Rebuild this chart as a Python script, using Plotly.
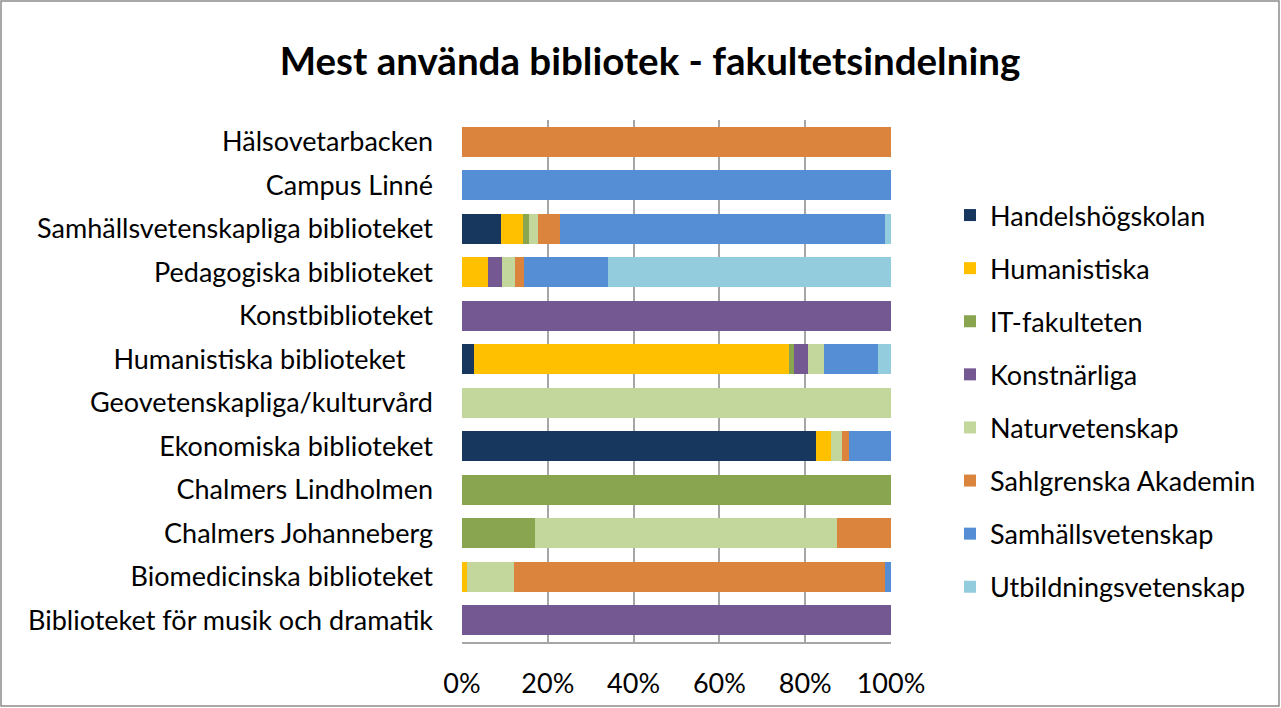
import plotly.graph_objects as go

categories = ["Hälsovetarbacken", "Campus Linné", "Samhällsvetenskapliga biblioteket",
              "Pedagogiska biblioteket", "Konstbiblioteket",
              "Humanistiska biblioteket\u00a0\u00a0\u00a0\u00a0",
              "Geovetenskapliga/kulturvård", "Ekonomiska biblioteket", "Chalmers Lindholmen",
              "Chalmers Johanneberg", "Biomedicinska biblioteket",
              "Biblioteket för musik och dramatik"]

handelshogskolan = [0, 0, 9.0, 0, 0, 2.9, 0, 82.6, 0, 0, 0, 0]
humanistiska = [0, 0, 5.3, 6.1, 0, 73.3, 0, 3.3, 0, 0, 1.2, 0]
it_fakulteten = [0, 0, 1.2, 0, 0, 1.2, 0, 0, 100, 16.9, 0, 0]
konstnarliga = [0, 0, 0, 3.3, 100, 3.3, 0, 0, 0, 0, 0, 100]
naturvetenskap = [0, 0, 2.3, 3.0, 0, 3.6, 100, 2.6, 0, 70.6, 11.0, 0]
sahlgrenska = [100, 0, 5.0, 2.0, 0, 0, 0, 1.6, 0, 12.5, 86.4, 0]
samhallsvetenskap = [0, 100, 75.7, 19.6, 0, 12.7, 0, 9.9, 0, 0, 1.3, 0]
utbildningsvetenskap = [0, 0, 1.5, 66.0, 0, 3.0, 0, 0, 0, 0, 0, 0]

series = [
    ("Handelshögskolan", handelshogskolan, "#17375E"),
    ("Humanistiska", humanistiska, "#FFC000"),
    ("IT-fakulteten", it_fakulteten, "#8AA54F"),
    ("Konstnärliga", konstnarliga, "#735891"),
    ("Naturvetenskap", naturvetenskap, "#C3D69B"),
    ("Sahlgrenska Akademin", sahlgrenska, "#DB843D"),
    ("Samhällsvetenskap", samhallsvetenskap, "#558ED5"),
    ("Utbildningsvetenskap", utbildningsvetenskap, "#93CDDD"),
]

FONT = "Lato"
fig = go.Figure()
for name, vals, color in series:
    fig.add_trace(go.Bar(
        y=categories, x=[v / 100 for v in vals], name=name, orientation="h",
        marker=dict(color=color, line=dict(width=0)), legendgroup=name,
    ))

W, H = 1281, 708
ml, mr, mt, mb = 462, 390, 120, 66
pw, ph = W - ml - mr, H - mt - mb

fig.update_layout(
    width=W, height=H,
    barmode="stack", bargap=0.31,
    margin=dict(l=ml, r=mr, t=mt, b=mb, autoexpand=False),
    paper_bgcolor="white", plot_bgcolor="white",
    font=dict(family=FONT, size=27, color="#000000"),
    title=dict(text="<b>Mest använda bibliotek - fakultetsindelning</b>",
               x=650 / W, xanchor="center", y=1 - 62 / H, yanchor="middle",
               font=dict(family=FONT, size=38.5, color="#000000")),
    legend=dict(x=(950 - ml) / pw, xanchor="left", y=1 - (191 - mt) / ph, yanchor="top",
                traceorder="grouped", tracegroupgap=15,
                font=dict(family=FONT, size=27, color="#000000"),
                bgcolor="rgba(0,0,0,0)"),
    showlegend=True,
    shapes=[dict(type="rect", xref="paper", yref="paper",
                 x0=(1 - ml) / pw, x1=(W - 2 - ml) / pw,
                 y0=1 + (mt - 1) / ph, y1=-(mb - 2) / ph,
                 line=dict(color="#8C8C8C", width=1.5), fillcolor="rgba(0,0,0,0)")],
)
fig.update_xaxes(range=[0, 1], tickvals=[0, 0.2, 0.4, 0.6, 0.8, 1.0], tickformat=".0%",
                 showgrid=True, gridcolor="#A6A6A6", gridwidth=2,
                 zeroline=False, showline=True, linecolor="#A6A6A6", linewidth=2,
                 ticks="", ticklabelstandoff=17, fixedrange=True, automargin=False,
                 tickfont=dict(family=FONT, size=27, color="#000000"))
fig.update_yaxes(autorange="reversed", ticks="", ticklabelstandoff=28, showgrid=False,
                 showline=False, fixedrange=True, automargin=False,
                 tickfont=dict(family=FONT, size=27, color="#000000"))

fig.write_html("out.html", config={"displayModeBar": False},
               post_script="document.body.style.margin='0';")
